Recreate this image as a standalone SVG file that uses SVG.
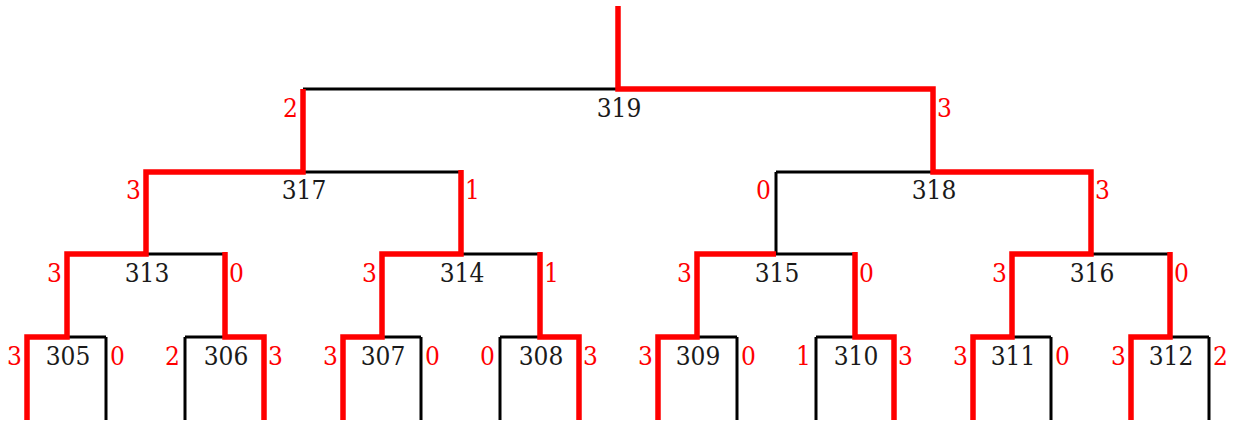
<svg xmlns="http://www.w3.org/2000/svg" width="1239" height="421" viewBox="0 0 1239 421">
<style>
.b{fill:none;stroke:#000;stroke-width:3}
.r{fill:none;stroke:#ff0000;stroke-width:5.5;stroke-linejoin:miter}
text{font-family:'DejaVu Serif Condensed','DejaVu Serif',serif;font-stretch:condensed;font-size:26px}
.n{fill:#1a1a1a;text-anchor:middle}
.w{fill:#ff0000}
.e{text-anchor:end}
</style>
<rect width="1239" height="421" fill="#fff"/>
<g id="connectors">
<g id="black">
<path class="b" d="M303 89H933M146 172H461M776 172H1091M67 254H225M382 254H540M697 254H855M1012 254H1170"/>
<path class="b" d="M27 337H106M185 337H264M343 337H421M500 337H579M658 337H737M816 337H894M973 337H1051M1131 337H1209"/>
<path class="b" d="M776 172V254M106 337V420M185 337V420M421 337V420M500 337V420M737 337V420M816 337V420M1051 337V420M1209 337V420"/>
</g>
<g id="red">
<path class="r" d="M618 6V89H933V172H1091V254H1012V337H973V420"/>
<path class="r" d="M1170 252V337H1131V420"/>
<path class="r" d="M303 89V172H146V254H67V337H27V420"/>
<path class="r" d="M461 170V254H382V337H343V420"/>
<path class="r" d="M225 252V337H264V420"/>
<path class="r" d="M540 252V337H579V420"/>
<path class="r" d="M776 254H697V337H658V420"/>
<path class="r" d="M855 252V337H894V420"/>
</g>
</g>
<g id="n319"><text class="n" x="619" y="117">319</text><text class="w e" x="298" y="117">2</text><text class="w" x="937" y="117">3</text></g>
<g id="n317"><text class="n" x="304" y="199">317</text><text class="w e" x="141" y="199">3</text><text class="w" x="465" y="199">1</text></g>
<g id="n318"><text class="n" x="934" y="199">318</text><text class="w e" x="771" y="199">0</text><text class="w" x="1095" y="199">3</text></g>
<g id="n313"><text class="n" x="147" y="282">313</text><text class="w e" x="62" y="282">3</text><text class="w" x="229" y="282">0</text></g>
<g id="n314"><text class="n" x="462" y="282">314</text><text class="w e" x="377" y="282">3</text><text class="w" x="544" y="282">1</text></g>
<g id="n315"><text class="n" x="777" y="282">315</text><text class="w e" x="692" y="282">3</text><text class="w" x="859" y="282">0</text></g>
<g id="n316"><text class="n" x="1092" y="282">316</text><text class="w e" x="1007" y="282">3</text><text class="w" x="1174" y="282">0</text></g>
<g id="n305"><text class="n" x="68" y="365">305</text><text class="w e" x="22" y="365">3</text><text class="w" x="110" y="365">0</text></g>
<g id="n306"><text class="n" x="226" y="365">306</text><text class="w e" x="180" y="365">2</text><text class="w" x="268" y="365">3</text></g>
<g id="n307"><text class="n" x="383" y="365">307</text><text class="w e" x="338" y="365">3</text><text class="w" x="425" y="365">0</text></g>
<g id="n308"><text class="n" x="541" y="365">308</text><text class="w e" x="495" y="365">0</text><text class="w" x="583" y="365">3</text></g>
<g id="n309"><text class="n" x="698" y="365">309</text><text class="w e" x="653" y="365">3</text><text class="w" x="741" y="365">0</text></g>
<g id="n310"><text class="n" x="856" y="365">310</text><text class="w e" x="811" y="365">1</text><text class="w" x="898" y="365">3</text></g>
<g id="n311"><text class="n" x="1013" y="365">311</text><text class="w e" x="968" y="365">3</text><text class="w" x="1055" y="365">0</text></g>
<g id="n312"><text class="n" x="1171" y="365">312</text><text class="w e" x="1126" y="365">3</text><text class="w" x="1213" y="365">2</text></g>
</svg>
